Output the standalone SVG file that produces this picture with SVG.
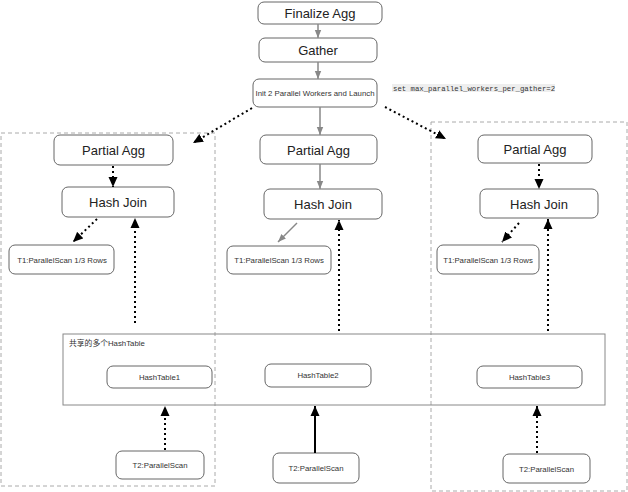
<svg xmlns="http://www.w3.org/2000/svg" width="628" height="492" viewBox="0 0 628 492">
<defs>
<marker id="ab" markerUnits="userSpaceOnUse" markerWidth="10" markerHeight="10" viewBox="0 0 10 10" refX="10" refY="5" orient="auto">
<path d="M0,0.5 L10,5 L0,9.5 Z" fill="#000"/>
</marker>
<marker id="ag" markerUnits="userSpaceOnUse" markerWidth="8" markerHeight="8" viewBox="0 0 8 8" refX="8" refY="4" orient="auto">
<path d="M0,0.8 L8,4 L0,7.2 Z" fill="#888"/>
</marker>
</defs>
<style>
.n{fill:#fff;stroke:#666;stroke-width:1}
.big{font-family:"Liberation Sans",Arial,sans-serif;font-size:13px;fill:#222;text-anchor:middle}
.sm{font-family:"Liberation Sans",Arial,sans-serif;font-size:7.8px;fill:#333;text-anchor:middle}
.grp{fill:none;stroke:#aaa;stroke-width:1;stroke-dasharray:4 3}
.dot{fill:none;stroke:#000;stroke-width:2;stroke-dasharray:2 3;marker-end:url(#ab)}
.gray{fill:none;stroke:#888;stroke-width:1.5;marker-end:url(#ag)}
.solid{fill:none;stroke:#000;stroke-width:2;marker-end:url(#ab)}
</style>
<rect width="628" height="492" fill="#fff"/>

<g id="groups">
<rect class="grp" x="1" y="133" width="214" height="353"/>
<rect class="grp" x="431" y="122" width="196" height="369"/>
</g>

<g id="hashtable-container">
<rect x="63" y="334" width="542" height="71" fill="none" stroke="#888" stroke-width="1"/>
<text x="69" y="346" font-family="'Liberation Sans','Noto Sans CJK SC',sans-serif" font-size="7.8px" fill="#333">共享的多个HashTable</text>
</g>

<g id="note">
<rect x="392" y="84" width="163" height="8" fill="#eeeeee"/>
<text x="393" y="90.5" font-family="'Liberation Mono','DejaVu Sans Mono',monospace" font-size="7.3px" fill="#333">set max_parallel_workers_per_gather=2</text>
</g>

<g id="finalize-agg"><rect class="n" x="258" y="2" width="124" height="22" rx="6"/><text class="big" x="320" y="17.5">Finalize Agg</text></g>
<g id="gather"><rect class="n" x="259" y="38" width="118" height="24" rx="6"/><text class="big" x="318" y="54.5">Gather</text></g>
<g id="init"><rect class="n" x="253" y="79" width="124" height="28" rx="6"/><text class="sm" x="315" y="95.5">Init 2 Parallel Workers and Launch</text></g>

<g id="partial-agg-1"><rect class="n" x="54" y="135" width="119" height="30" rx="6"/><text class="big" x="113.5" y="155">Partial Agg</text></g>
<g id="hash-join-1"><rect class="n" x="62" y="187" width="112" height="30" rx="6"/><text class="big" x="118" y="207">Hash Join</text></g>
<g id="t1-scan-1"><rect class="n" x="9" y="245" width="105" height="29" rx="6"/><text class="sm" x="62" y="262.5">T1:ParallelScan 1/3 Rows</text></g>

<g id="partial-agg-2"><rect class="n" x="260" y="135" width="117" height="29" rx="6"/><text class="big" x="318.5" y="154.5">Partial Agg</text></g>
<g id="hash-join-2"><rect class="n" x="264" y="189" width="118" height="30" rx="6"/><text class="big" x="323" y="209">Hash Join</text></g>
<g id="t1-scan-2"><rect class="n" x="227" y="246" width="104" height="28" rx="6"/><text class="sm" x="279" y="263">T1:ParallelScan 1/3 Rows</text></g>

<g id="partial-agg-3"><rect class="n" x="478" y="135" width="114" height="28" rx="6"/><text class="big" x="535" y="154">Partial Agg</text></g>
<g id="hash-join-3"><rect class="n" x="480" y="189" width="118" height="29" rx="6"/><text class="big" x="539" y="208.5">Hash Join</text></g>
<g id="t1-scan-3"><rect class="n" x="437" y="245" width="102" height="29" rx="6"/><text class="sm" x="488" y="262.5">T1:ParallelScan 1/3 Rows</text></g>

<g id="hashtable1"><rect class="n" x="107" y="366" width="105" height="22" rx="6"/><text class="sm" x="159.5" y="379.5">HashTable1</text></g>
<g id="hashtable2"><rect class="n" x="265" y="364" width="106" height="23" rx="6"/><text class="sm" x="318" y="378">HashTable2</text></g>
<g id="hashtable3"><rect class="n" x="477" y="366" width="105" height="22" rx="6"/><text class="sm" x="529.5" y="379.5">HashTable3</text></g>

<g id="t2-scan-1"><rect class="n" x="116" y="451" width="88" height="28" rx="6"/><text class="sm" x="160" y="468">T2:ParallelScan</text></g>
<g id="t2-scan-2"><rect class="n" x="273" y="453" width="86" height="30" rx="6"/><text class="sm" x="316" y="471">T2:ParallelScan</text></g>
<g id="t2-scan-3"><rect class="n" x="503" y="454" width="87" height="29" rx="6"/><text class="sm" x="546.5" y="471.5">T2:ParallelScan</text></g>

<g id="connectors">
<line class="gray" x1="318" y1="24" x2="318" y2="38"/>
<line class="gray" x1="318" y1="62" x2="318" y2="79"/>
<line class="gray" x1="320" y1="107" x2="320" y2="135"/>
<line class="gray" x1="320" y1="164" x2="320" y2="189"/>
<line class="gray" x1="297" y1="223" x2="278" y2="242"/>
<line class="dot" x1="252" y1="108" x2="193" y2="143"/>
<line class="dot" x1="385" y1="107" x2="446" y2="139"/>
<line class="dot" x1="113" y1="166" x2="113" y2="187"/>
<line class="dot" x1="539" y1="164" x2="539" y2="189"/>
<line class="dot" x1="97" y1="219" x2="73" y2="242"/>
<line class="dot" x1="519" y1="223" x2="502" y2="242"/>
<line class="dot" x1="135" y1="323" x2="135" y2="218"/>
<line class="dot" x1="339" y1="331" x2="339" y2="220"/>
<line class="dot" x1="548" y1="331" x2="548" y2="219"/>
<line class="dot" x1="165" y1="450" x2="165" y2="406"/>
<line class="solid" x1="315" y1="453" x2="315" y2="406"/>
<line class="dot" x1="537" y1="453" x2="537" y2="406"/>
</g>
</svg>
